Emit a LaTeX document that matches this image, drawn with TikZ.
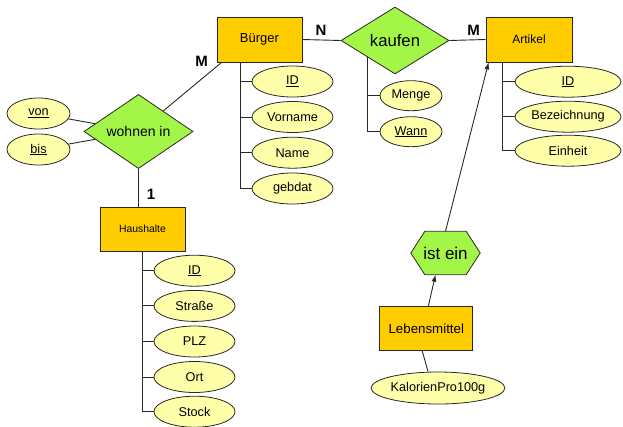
\documentclass[tikz,border=0pt]{standalone}
\usepackage{fontspec}
\setmainfont{Liberation Sans}
\usetikzlibrary{shapes.geometric,arrows.meta,backgrounds}
\definecolor{entfill}{RGB}{255,204,0}
\definecolor{relfill}{RGB}{163,245,71}
\definecolor{attrfill}{RGB}{255,255,170}
\definecolor{edge}{RGB}{40,40,40}
\begin{document}
\begin{tikzpicture}[x=1pt,y=-1pt,
  ent/.style={draw=edge, fill=entfill, line width=0.8pt, inner sep=0pt},
  rel/.style={diamond, draw=edge, fill=relfill, line width=0.8pt, inner sep=0pt},
  attr/.style={ellipse, draw=edge, fill=attrfill, line width=0.8pt, inner sep=0pt,
    minimum width=81pt, minimum height=31pt, font=\fontsize{12.7}{14}\selectfont},
  card/.style={inner sep=0pt, font=\fontsize{15}{16}\selectfont\bfseries},
  conn/.style={draw=edge, line width=0.9pt},
  tip/.style={-{Latex[length=7pt,width=5pt]}}]
\useasboundingbox (0,0) rectangle (623,426);

% entities
\node[ent, minimum width=85pt, minimum height=45pt, font=\fontsize{13}{15}\selectfont] (bur) at (259.5,39.5) {Bürger};
\node[ent, minimum width=86pt, minimum height=45pt, font=\fontsize{12}{14}\selectfont] (art) at (529,39.5) {Artikel};
\node[ent, minimum width=85pt, minimum height=44pt, font=\fontsize{10.4}{12}\selectfont] (hh) at (142.5,229) {Haushalte};
\node[ent, minimum width=93pt, minimum height=44pt, font=\fontsize{13.3}{15}\selectfont] (leb) at (426.3,328.7) {Lebensmittel};

% relationships
\node[rel, minimum width=108pt, minimum height=67pt, font=\fontsize{16.7}{18}\selectfont] (kau) at (395,40.5) {kaufen};
\node[rel, minimum width=109pt, minimum height=67pt, font=\fontsize{14}{16}\selectfont] (woh) at (138.5,131.5) {wohnen in};
\node[inner sep=0pt, minimum width=69pt, minimum height=43pt, font=\fontsize{17}{19}\selectfont] (isa) at (445.5,253) {ist ein};
\begin{scope}[on background layer]
\draw[draw=edge, fill=relfill, line width=0.8pt] (isa.west) -- ([xshift=14pt]isa.north west) -- ([xshift=-14pt]isa.north east) -- (isa.east) -- ([xshift=-14pt]isa.south east) -- ([xshift=14pt]isa.south west) -- cycle;
\end{scope}

% attributes of Bürger
\node[attr] (b1) at (292.5,81.5) {\underline{ID}};
\node[attr] (b2) at (292.5,117) {Vorname};
\node[attr] (b3) at (292.5,152.7) {Name};
\node[attr] (b4) at (292.5,188.5) {gebdat};
% attributes of wohnen in
\node[attr, minimum width=63pt] (von) at (38.5,113.5) {\underline{von}};
\node[attr, minimum width=63pt] (bis) at (38.5,149.5) {\underline{bis}};
% attributes of kaufen
\node[attr, minimum width=62pt, minimum height=30pt] (k1) at (411,95.7) {Menge};
\node[attr, minimum width=62pt, minimum height=30pt] (k2) at (411,131.7) {\underline{Wann}};
% attributes of Artikel
\node[attr, minimum width=106pt] (a1) at (568,81.7) {\underline{ID}};
\node[attr, minimum width=106pt] (a2) at (568,116.7) {Bezeichnung};
\node[attr, minimum width=106pt] (a3) at (568,150.7) {Einheit};
% attributes of Haushalte
\node[attr] (h1) at (194.5,270.7) {\underline{ID}};
\node[attr] (h2) at (194.5,305.9) {Straße};
\node[attr] (h3) at (194.5,341.5) {PLZ};
\node[attr] (h4) at (194.5,377) {Ort};
\node[attr] (h5) at (194.5,411.7) {Stock};
% attribute of Lebensmittel
\node[attr, minimum width=132pt, minimum height=32pt] (kal) at (438,388) {KalorienPro100g};

% cardinalities
\node[card] (cN) at (321,30) {N};
\node[card] (cM1) at (473.5,30) {M};
\node[card] (cM2) at (201.5,61) {M};
\node[card] (c1) at (151,194.5) {1};

% connectors
\draw[conn] (bur.east) -- (kau.west);
\draw[conn] (kau.east) -- (art.west);
\draw[conn] ([xshift=5pt]bur.south west) -- (woh);
\draw[conn] (von) -- (woh);
\draw[conn] (bis) -- (woh);
\draw[conn] (woh.south) -- (woh.south |- hh.north);

\coordinate (bt) at ([xshift=24pt]bur.south west);
\draw[conn] (bt) |- (b4.west);
\foreach \n in {b1,b2,b3} \draw[conn] (bt |- \n.west) -- (\n.west);

\draw[conn] (kau.south west) |- (k2.west);
\draw[conn] (kau.south west |- k1.west) -- (k1.west);

\coordinate (at) at ([xshift=17pt]art.south west);
\draw[conn] (at) |- (a3.west);
\foreach \n in {a1,a2} \draw[conn] (at |- \n.west) -- (\n.west);

\coordinate (ht) at ([xshift=43pt]hh.south west);
\draw[conn] (ht) |- (h5.west);
\foreach \n in {h1,h2,h3,h4} \draw[conn] (ht |- \n.west) -- (\n.west);

\draw[conn, tip] (isa.north) -- ([xshift=3pt]art.south west);
\draw[conn, tip] ([xshift=2pt]leb.north) -- ([xshift=-10pt]isa.south);
\draw[conn] ([xshift=-4pt]leb.south) -- ([xshift=-10pt]kal.north);
\end{tikzpicture}
\end{document}
